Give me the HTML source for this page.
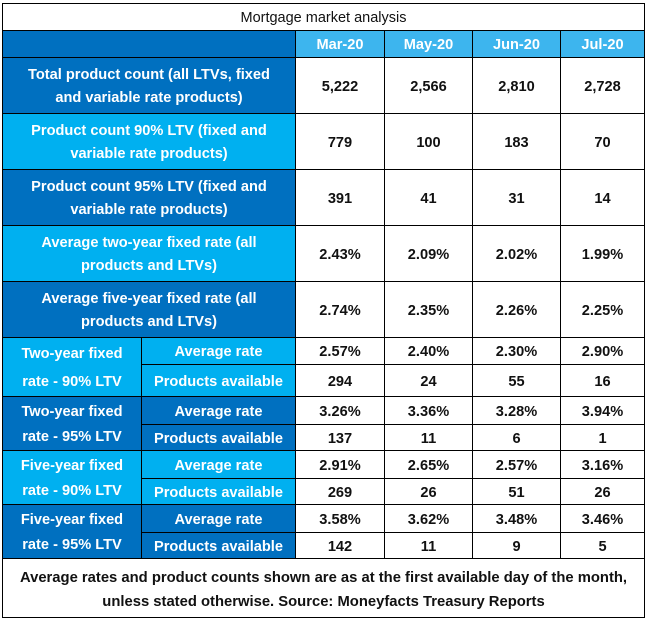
<!DOCTYPE html>
<html><head><meta charset="utf-8"><style>
body{margin:0;background:#fff;width:652px;height:624px;overflow:hidden;font-family:"Liberation Sans",Arial,sans-serif;}
table{position:absolute;left:2px;top:3px;border-collapse:collapse;table-layout:fixed;}
td{border:1px solid #000;padding:2px 0 0 0;text-align:center;font-weight:bold;font-size:14.6px;color:#111;line-height:20px;white-space:nowrap;}
td.m{line-height:23px;}
.d{background:#0070c0;color:#fff;}
.l{background:#00b0f0;color:#fff;}
.h{background:#3db5ee;color:#fff;}
.t{font-weight:normal;font-size:14.5px;}
.f{line-height:24px;font-size:14.8px;padding-top:4px;}
</style></head><body>
<table>
<colgroup><col style="width:139px"><col style="width:154px"><col style="width:89px"><col style="width:88px"><col style="width:88px"><col style="width:84px"></colgroup>
<tr style="height:27px"><td colspan="6" class="t">Mortgage market analysis</td></tr>
<tr style="height:27px"><td colspan="2" class="d"></td><td class="h">Mar-20</td><td class="h">May-20</td><td class="h">Jun-20</td><td class="h">Jul-20</td></tr>
<tr style="height:56px"><td colspan="2" class="d m">Total product count (all LTVs, fixed<br>and variable rate products)</td><td>5,222</td><td>2,566</td><td>2,810</td><td>2,728</td></tr>
<tr style="height:56px"><td colspan="2" class="l m">Product count 90% LTV (fixed and<br>variable rate products)</td><td>779</td><td>100</td><td>183</td><td>70</td></tr>
<tr style="height:56px"><td colspan="2" class="d m">Product count 95% LTV (fixed and<br>variable rate products)</td><td>391</td><td>41</td><td>31</td><td>14</td></tr>
<tr style="height:56px"><td colspan="2" class="l m">Average two-year fixed rate (all<br>products and LTVs)</td><td>2.43%</td><td>2.09%</td><td>2.02%</td><td>1.99%</td></tr>
<tr style="height:56px"><td colspan="2" class="d m">Average five-year fixed rate (all<br>products and LTVs)</td><td>2.74%</td><td>2.35%</td><td>2.26%</td><td>2.25%</td></tr>
<tr style="height:27px"><td rowspan="2" class="l" style="line-height:28px">Two-year fixed<br>rate - 90% LTV</td><td class="l">Average rate</td><td>2.57%</td><td>2.40%</td><td>2.30%</td><td>2.90%</td></tr>
<tr style="height:32px"><td class="l">Products available</td><td>294</td><td>24</td><td>55</td><td>16</td></tr>
<tr style="height:28px"><td rowspan="2" class="d" style="line-height:25px">Two-year fixed<br>rate - 95% LTV</td><td class="d">Average rate</td><td>3.26%</td><td>3.36%</td><td>3.28%</td><td>3.94%</td></tr>
<tr style="height:26px"><td class="d">Products available</td><td>137</td><td>11</td><td>6</td><td>1</td></tr>
<tr style="height:28px"><td rowspan="2" class="l" style="line-height:25px">Five-year fixed<br>rate - 90% LTV</td><td class="l">Average rate</td><td>2.91%</td><td>2.65%</td><td>2.57%</td><td>3.16%</td></tr>
<tr style="height:26px"><td class="l">Products available</td><td>269</td><td>26</td><td>51</td><td>26</td></tr>
<tr style="height:28px"><td rowspan="2" class="d" style="line-height:25px">Five-year fixed<br>rate - 95% LTV</td><td class="d">Average rate</td><td>3.58%</td><td>3.62%</td><td>3.48%</td><td>3.46%</td></tr>
<tr style="height:26px"><td class="d">Products available</td><td>142</td><td>11</td><td>9</td><td>5</td></tr>
<tr style="height:59px"><td colspan="6" class="f">Average rates and product counts shown are as at the first available day of the month,<br>unless stated otherwise. Source: Moneyfacts Treasury Reports</td></tr>
</table>
</body></html>
